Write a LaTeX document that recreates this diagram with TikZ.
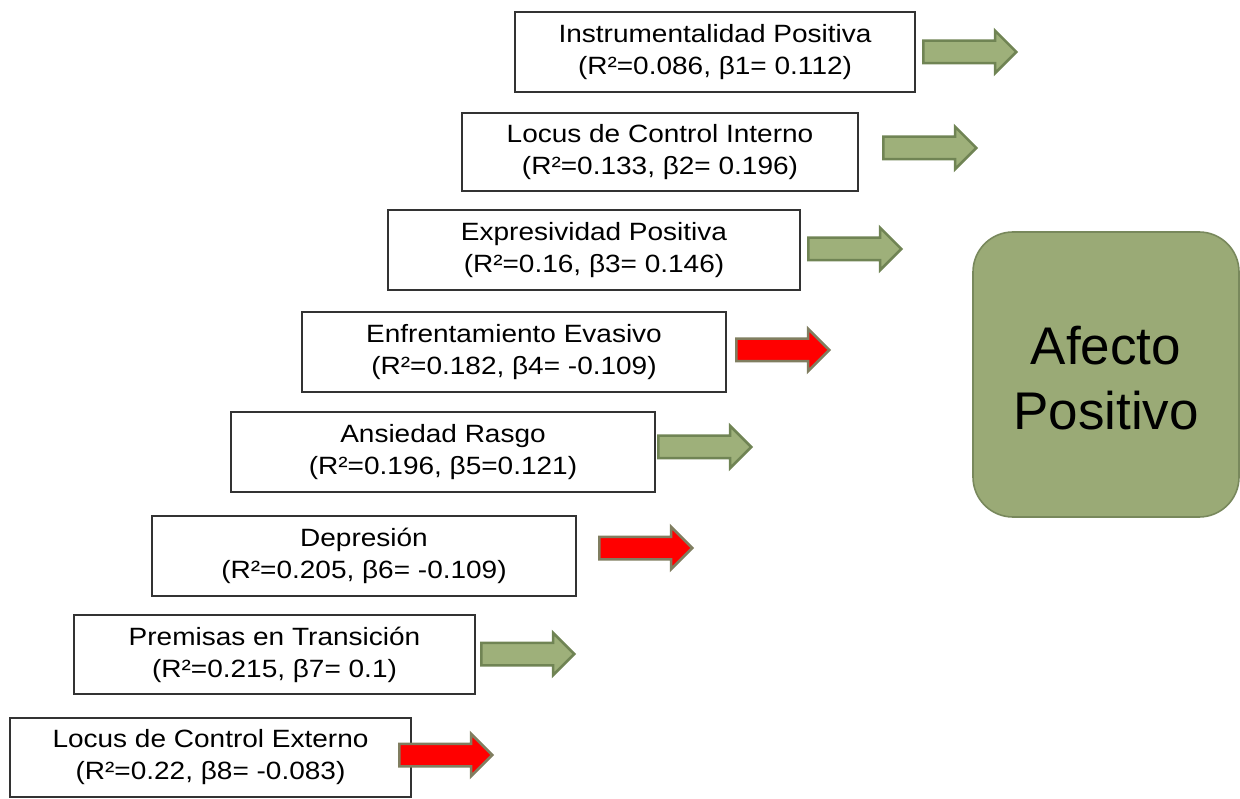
\documentclass[tikz,border=0pt]{standalone}
\usepackage{fontspec}
\setmainfont{Liberation Sans}[FakeStretch=1.12]
\newfontfamily\bigsans{Liberation Sans}
\usetikzlibrary{shapes.arrows}
\definecolor{arrgreen}{RGB}{158,176,122}
\definecolor{arrgreenb}{RGB}{112,132,84}
\definecolor{arrredb}{RGB}{128,126,96}
\definecolor{bigfill}{RGB}{154,170,118}
\definecolor{bigborder}{RGB}{120,136,92}
\begin{document}
\begin{tikzpicture}[x=1pt,y=-1pt,
  predbox/.style={draw=black!80,line width=1.4pt,fill=white,inner sep=0pt,
    minimum height=80pt,align=center,font=\fontsize{25}{32}\selectfont},
  arr/.style={single arrow,single arrow head extend=10pt,inner xsep=0pt,inner ysep=10pt,
    minimum height=93pt,minimum width=40pt,line width=2.5pt,anchor=west},
  posarr/.style={arr,draw=arrgreenb,fill=arrgreen},
  negarr/.style={arr,draw=arrredb,fill=red},
  outbox/.style={draw=bigborder,line width=1.6pt,fill=bigfill,rounded corners=40pt,
    minimum width=266pt,minimum height=285pt}]
\useasboundingbox (0,0) rectangle (1240,799);

\node[predbox,minimum width=400pt] (b1) at (715,52) {Instrumentalidad Positiva\\(R²=0.086, β1= 0.112)};
\node[predbox,minimum width=396pt,minimum height=78pt] (b2) at (660,152) {Locus de Control Interno\\(R²=0.133, β2= 0.196)};
\node[predbox,minimum width=412pt] (b3) at (594,250) {Expresividad Positiva\\(R²=0.16, β3= 0.146)};
\node[predbox,minimum width=424pt] (b4) at (514,352) {Enfrentamiento Evasivo\\(R²=0.182, β4= -0.109)};
\node[predbox,minimum width=424pt] (b5) at (443,452) {Ansiedad Rasgo\\(R²=0.196, β5=0.121)};
\node[predbox,minimum width=424pt] (b6) at (364,556) {Depresión\\(R²=0.205, β6= -0.109)};
\node[predbox,minimum width=401pt,minimum height=79pt] (b7) at (274.5,654.5) {Premisas en Transición\\(R²=0.215, β7= 0.1)};
\node[predbox,minimum width=401pt,minimum height=79pt] (b8) at (210.5,757.5) {Locus de Control Externo\\(R²=0.22, β8= -0.083)};

\node[posarr] (a1) at (922,52) {};
\node[posarr] (a2) at (882,148) {};
\node[posarr] (a3) at (807,249) {};
\node[negarr] (a4) at (735,350) {};
\node[posarr] (a5) at (657,447) {};
\node[negarr] (a6) at (598,548) {};
\node[posarr] (a7) at (480,654) {};
\node[negarr] (a8) at (398,755) {};

\node[outbox] (ap) at (1106,374.5) {};
\node[align=center,font=\bigsans\fontsize{53}{65}\selectfont,inner sep=0pt] (apt) at (1106,378) {Afecto\\Positivo};
\end{tikzpicture}
\end{document}
